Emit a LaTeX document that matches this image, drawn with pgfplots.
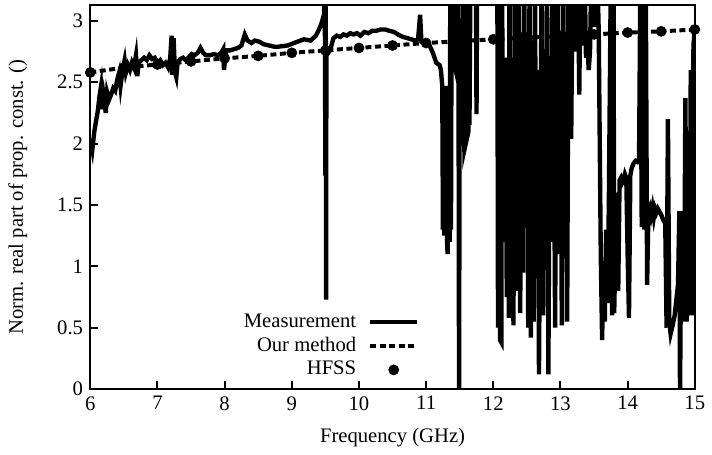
\documentclass[border=0pt]{standalone}
\usepackage{fontspec}
\setmainfont{Liberation Serif}
\usepackage{pgfplots}
\pgfplotsset{compat=1.18}

\pgfplotstableread{
x y
6.00 2.04
6.03 1.95
6.06 2.10
6.09 2.20
6.11 2.26
6.14 2.40
6.16 2.47
6.18 2.28
6.20 2.38
6.23 2.25
6.25 2.42
6.28 2.36
6.31 2.40
6.34 2.45
6.37 2.43
6.40 2.52
6.43 2.58
6.45 2.47
6.48 2.60
6.51 2.68
6.53 2.58
6.56 2.64
6.59 2.60
6.62 2.66
6.65 2.62
6.68 2.72
6.70 2.55
6.72 2.66
6.76 2.68
6.80 2.70
6.84 2.68
6.88 2.72
6.92 2.69
6.96 2.70
7.00 2.66
7.04 2.68
7.08 2.64
7.12 2.66
7.16 2.62
7.19 2.70
7.21 2.88
7.22 2.56
7.24 2.86
7.26 2.58
7.28 2.54
7.30 2.66
7.34 2.69
7.38 2.70
7.42 2.68
7.46 2.70
7.51 2.73
7.55 2.72
7.60 2.74
7.64 2.78
7.68 2.74
7.72 2.72
7.78 2.72
7.84 2.73
7.90 2.72
7.95 2.74
7.98 2.77
7.99 2.60
8.02 2.76
8.08 2.76
8.14 2.77
8.20 2.78
8.25 2.80
8.30 2.89
8.34 2.84
8.40 2.82
8.45 2.84
8.52 2.83
8.58 2.81
8.66 2.80
8.74 2.79
8.80 2.79
8.94 2.80
9.08 2.83
9.18 2.85
9.28 2.84
9.36 2.88
9.43 2.96
9.48 3.05
9.49 3.40
9.50 1.74
9.505 3.40
9.51 0.73
9.515 2.72
9.57 2.76
9.62 2.86
9.67 2.88
9.72 2.87
9.77 2.89
9.82 2.88
9.87 2.90
9.92 2.89
9.97 2.90
10.02 2.88
10.08 2.91
10.14 2.90
10.20 2.92
10.26 2.92
10.32 2.93
10.39 2.93
10.45 2.92
10.52 2.91
10.58 2.89
10.65 2.87
10.72 2.86
10.78 2.85
10.84 2.84
10.88 2.85
10.91 3.05
10.93 2.83
10.98 2.82
11.05 2.80
11.10 2.74
11.15 2.66
11.20 2.64
11.22 2.60
11.24 2.47
11.25 1.30
11.26 2.45
11.27 1.25
11.28 2.40
11.29 1.28
11.30 2.47
11.31 1.20
11.32 1.10
11.33 2.45
11.34 1.30
11.35 1.20
11.36 3.40
11.37 1.30
11.38 3.40
11.39 2.60
11.40 2.70
11.42 2.65
11.43 3.40
11.44 2.70
11.46 2.65
11.48 3.40
11.49 -0.10
11.50 2.62
11.52 2.70
11.54 2.50
11.56 3.40
11.57 1.95
11.59 2.00
11.60 3.40
11.61 2.05
11.63 2.10
11.64 3.40
11.645 2.15
11.66 3.40
11.74 3.40
11.75 2.24
11.76 3.40
12.06 3.40
12.07 0.50
12.08 3.40
12.10 0.40
12.12 0.38
12.13 3.40
12.15 1.20
12.17 2.70
12.19 2.60
12.20 0.75
12.22 2.55
12.23 0.58
12.24 3.40
12.26 1.00
12.28 2.70
12.30 0.52
12.32 3.40
12.33 1.30
12.35 2.40
12.36 0.80
12.38 3.40
12.40 0.62
12.42 2.30
12.44 0.95
12.46 3.40
12.48 1.40
12.50 2.50
12.52 0.50
12.54 3.40
12.56 0.42
12.58 2.00
12.60 0.55
12.62 3.40
12.64 0.90
12.66 2.60
12.68 0.12
12.70 1.80
12.72 3.40
12.74 0.60
12.76 2.20
12.78 1.00
12.80 3.40
12.82 0.12
12.84 2.30
12.86 1.20
12.88 3.40
12.90 2.55
12.92 0.50
12.94 2.60
12.96 3.40
12.98 1.10
13.00 2.65
13.02 0.52
13.04 3.40
13.06 1.80
13.08 2.70
13.10 0.55
13.12 3.40
13.14 2.60
13.16 2.04
13.18 3.40
13.22 2.75
13.26 3.40
13.28 2.40
13.30 3.40
13.33 2.80
13.36 3.40
13.38 2.70
13.40 2.85
13.42 2.60
13.44 2.75
13.46 3.40
13.50 2.95
13.52 3.40
13.55 3.40
13.57 2.90
13.60 1.10
13.62 0.40
13.64 1.00
13.66 0.55
13.68 1.30
13.70 0.70
13.72 1.50
13.75 3.40
13.77 0.60
13.79 3.40
13.80 0.62
13.82 1.20
13.84 1.60
13.86 0.80
13.88 1.70
13.90 1.72
13.92 1.68
13.94 1.70
13.96 1.75
13.98 1.72
14.00 1.10
14.02 0.58
14.04 1.74
14.06 1.80
14.09 1.84
14.12 1.86
14.15 1.85
14.17 1.86
14.19 3.40
14.21 1.32
14.23 3.40
14.25 1.30
14.27 3.40
14.29 0.85
14.31 1.45
14.33 1.48
14.35 1.42
14.37 1.48
14.39 1.40
14.41 1.47
14.43 1.44
14.45 1.47
14.47 1.45
14.50 1.42
14.53 1.38
14.56 1.35
14.58 0.50
14.60 2.20
14.62 0.55
14.64 0.45
14.67 0.52
14.70 0.60
14.72 0.70
14.75 0.85
14.77 1.45
14.78 -0.10
14.80 1.45
14.82 1.10
14.84 0.55
14.86 2.37
14.88 0.55
14.90 1.20
14.92 0.60
14.94 2.60
14.96 0.60
14.98 2.80
15.00 2.93
}\measured

% HFSS simulation points (every 0.5 GHz)
\pgfplotstableread{
x y
6.0 2.580
6.5 2.620
7.0 2.645
7.5 2.670
8.0 2.695
8.5 2.715
9.0 2.740
9.5 2.760
10.0 2.780
10.5 2.800
11.0 2.820
11.5 2.835
12.0 2.850
12.5 2.865
13.0 2.875
13.5 2.890
14.0 2.905
14.5 2.915
15.0 2.930
}\hfss

\begin{document}
\fontsize{10.4}{12.5}\selectfont
\begin{tikzpicture}
\begin{axis}[
    name=ax,
    scale only axis,
    width=304.5pt,
    height=193.5pt,
    xmin=6, xmax=15,
    ymin=0, ymax=3.13,
    xtick={6,7,...,15},
    ytick={0,0.5,...,3},
    tick pos=left,
    tick align=inside,
    major tick length=4pt,
    axis line style={line width=1pt},
    every tick/.style={black, line width=1pt},
    /pgf/number format/assume math mode=true,
    tick label style={font=\rmfamily},
    xlabel={Frequency (GHz)},
    ylabel={Norm. real part of prop. const. ()},
    xlabel style={at={(axis description cs:0.5,-0.127)}, anchor=center},
    ylabel style={at={(axis description cs:-0.12,0.5)}, anchor=center},
    legend plot pos=right,
    legend cell align=right,
    legend image code/.code={
        \draw[mark repeat=2, mark phase=2, #1]
            plot coordinates {(0cm,0cm) (0.415cm,0cm) (0.83cm,0cm)};
    },
    legend style={
        draw=none, fill=none,
        at={(0.545,0.018)}, anchor=south east,
        row sep=0pt, inner sep=0pt,
        /tikz/column sep=4.5pt,
        nodes={inner sep=1.5pt, text height=7pt, text depth=2pt},
    },
]
\addplot[black, line width=2.2pt, no markers] table {\measured};
\addplot[black, line width=2pt, dash pattern=on 3pt off 1.8pt, no markers] table {\hfss};
\addplot[black, only marks, mark=*, mark size=2.5pt] table {\hfss};
\legend{Measurement, Our method, HFSS}
\end{axis}
\path ([xshift=-45.5pt, yshift=-32.5pt]ax.south west)
      rectangle ([xshift=6pt, yshift=2.5pt]ax.north east);
\end{tikzpicture}
\end{document}
